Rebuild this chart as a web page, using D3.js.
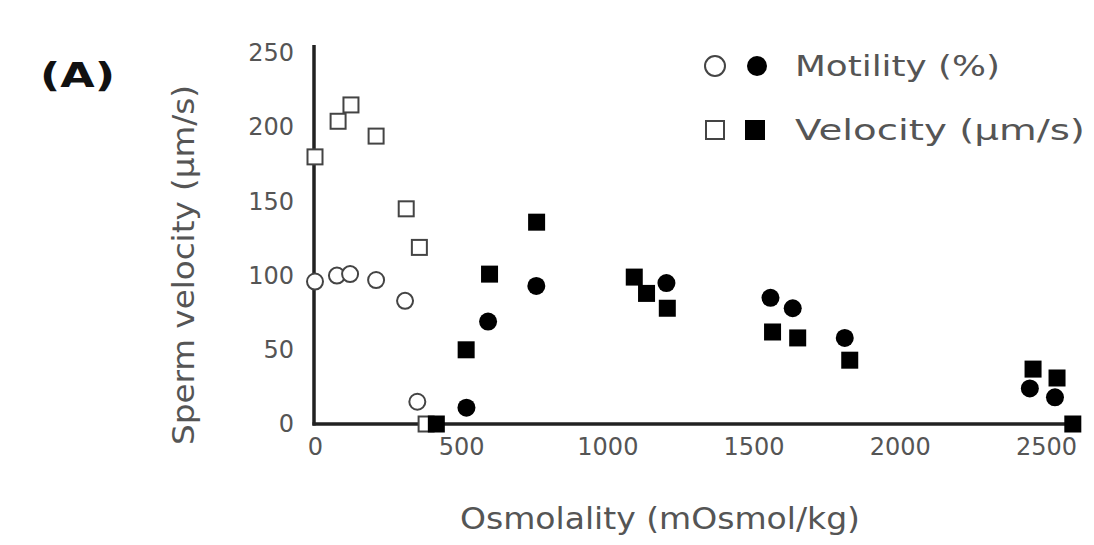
<!DOCTYPE html>
<html>
<head>
<meta charset="utf-8">
<script src="https://cdn.jsdelivr.net/npm/d3@7"></script>
<style>
  body { margin: 0; background: #fff; }
  text { font-family: "DejaVu Sans", Verdana, sans-serif; }
</style>
</head>
<body>
<div id="container"></div>
<script>
/* CONSTANTS AND GLOBALS */
const width = 1094,
  height = 545;

// DATA
// [osmolality, value]
const motilityOpen = [[0, 96], [75, 100], [120, 101], [209, 97], [308, 83], [350, 15]];
const motilityFilled = [[518, 11], [592, 69], [757, 93], [1202, 95], [1558, 85], [1634, 78], [1812, 58], [2445, 24], [2531, 18]];
const velocityOpen = [[0, 180], [79, 204], [123, 215], [209, 194], [312, 145], [357, 119], [380, 0]];
const velocityFilled = [[415, 0], [517, 50], [597, 101], [758, 136], [1092, 99], [1134, 88], [1205, 78], [1565, 62], [1651, 58], [1829, 43], [2456, 37], [2538, 31], [2592, 0]];

const xTicks = [0, 500, 1000, 1500, 2000, 2500];
const yTicks = [0, 50, 100, 150, 200, 250];
const legendLabels = ["Motility (%)", "Velocity (µm/s)"];

const grey = "#555";

// SCALES
const xScale = d3.scaleLinear()
  .domain([0, 2620])
  .range([315, 1081]);

const yScale = d3.scaleLinear()
  .domain([0, 250])
  .range([424, 53]);

// CREATE SVG ELEMENT
const svg = d3.select("#container")
  .append("svg")
  .attr("width", width)
  .attr("height", height);

// AXES
const xAxis = d3.axisBottom(xScale)
  .tickValues(xTicks)
  .tickFormat(d3.format("d"))
  .tickSize(0)
  .tickPadding(14);

const gx = svg.append("g")
  .attr("transform", `translate(0, ${yScale(0)})`)
  .call(xAxis);

const yAxis = d3.axisLeft(yScale)
  .tickValues(yTicks)
  .tickFormat(d3.format("d"))
  .tickSize(0)
  .tickPadding(20);

const gy = svg.append("g")
  .attr("transform", `translate(${xScale(0) - 1}, 0)`)
  .call(yAxis);

gx.select(".domain").remove();
gy.select(".domain").remove();

[gx, gy].forEach(g => g.selectAll("text")
  .attr("fill", grey)
  .attr("font-size", 24)
  .attr("font-family", "DejaVu Sans, sans-serif"));

// axis lines
svg.append("line")
  .attr("x1", xScale(0) - 1).attr("x2", xScale(0) - 1)
  .attr("y1", 45).attr("y2", yScale(0) + 1.5)
  .attr("stroke", "#222").attr("stroke-width", 3.5);

svg.append("line")
  .attr("x1", xScale(0) - 2.5).attr("x2", xScale(2620))
  .attr("y1", yScale(0)).attr("y2", yScale(0))
  .attr("stroke", "#222").attr("stroke-width", 3.5);

// AXIS TITLES
svg.append("text")
  .attr("x", 460).attr("y", 529)
  .attr("font-size", 30)
  .attr("textLength", 400)
  .attr("lengthAdjust", "spacingAndGlyphs")
  .attr("fill", grey)
  .text("Osmolality (mOsmol/kg)");

svg.append("text")
  .attr("transform", "translate(194, 445) rotate(-90)")
  .attr("font-size", 30)
  .attr("textLength", 360)
  .attr("lengthAdjust", "spacingAndGlyphs")
  .attr("fill", grey)
  .text("Sperm velocity (µm/s)");

svg.append("text")
  .attr("x", 40).attr("y", 87)
  .attr("font-size", 34)
  .attr("font-weight", "bold")
  .attr("textLength", 75)
  .attr("lengthAdjust", "spacingAndGlyphs")
  .attr("fill", "#111")
  .text("(A)");

// MARKERS
const r = 9, s = 17;

svg.selectAll(".mot-open")
  .data(motilityOpen)
  .join("circle")
  .attr("class", "mot-open")
  .attr("cx", d => xScale(d[0]))
  .attr("cy", d => yScale(d[1]))
  .attr("r", r - 1)
  .attr("fill", "#fff")
  .attr("stroke", "#444")
  .attr("stroke-width", 2);

svg.selectAll(".vel-open")
  .data(velocityOpen)
  .join("rect")
  .attr("class", "vel-open")
  .attr("x", d => xScale(d[0]) - s / 2 + 1)
  .attr("y", d => yScale(d[1]) - s / 2 + 1)
  .attr("width", s - 2)
  .attr("height", s - 2)
  .attr("fill", "#fff")
  .attr("stroke", "#444")
  .attr("stroke-width", 2);

svg.selectAll(".mot-filled")
  .data(motilityFilled)
  .join("circle")
  .attr("class", "mot-filled")
  .attr("cx", d => xScale(d[0]))
  .attr("cy", d => yScale(d[1]))
  .attr("r", r)
  .attr("fill", "#000");

svg.selectAll(".vel-filled")
  .data(velocityFilled)
  .join("rect")
  .attr("class", "vel-filled")
  .attr("x", d => xScale(d[0]) - s / 2)
  .attr("y", d => yScale(d[1]) - s / 2)
  .attr("width", s)
  .attr("height", s)
  .attr("fill", "#000");

// LEGEND
const legend = svg.append("g");

legend.append("circle")
  .attr("cx", 715).attr("cy", 66).attr("r", r + 1)
  .attr("fill", "#fff").attr("stroke", "#444").attr("stroke-width", 2);
legend.append("circle")
  .attr("cx", 757).attr("cy", 66).attr("r", r + 1)
  .attr("fill", "#000");
legend.append("rect")
  .attr("x", 706).attr("y", 121).attr("width", 18).attr("height", 18)
  .attr("fill", "#fff").attr("stroke", "#444").attr("stroke-width", 2);
legend.append("rect")
  .attr("x", 745).attr("y", 120).attr("width", 20).attr("height", 20)
  .attr("fill", "#000");

const legendWidths = [205, 290];

legend.selectAll(".leg-text")
  .data(legendLabels)
  .join("text")
  .attr("class", "leg-text")
  .attr("x", 795)
  .attr("y", (d, i) => 76 + i * 64)
  .attr("font-size", 29)
  .attr("textLength", (d, i) => legendWidths[i])
  .attr("lengthAdjust", "spacingAndGlyphs")
  .attr("fill", grey)
  .text(d => d);
</script>
</body>
</html>
